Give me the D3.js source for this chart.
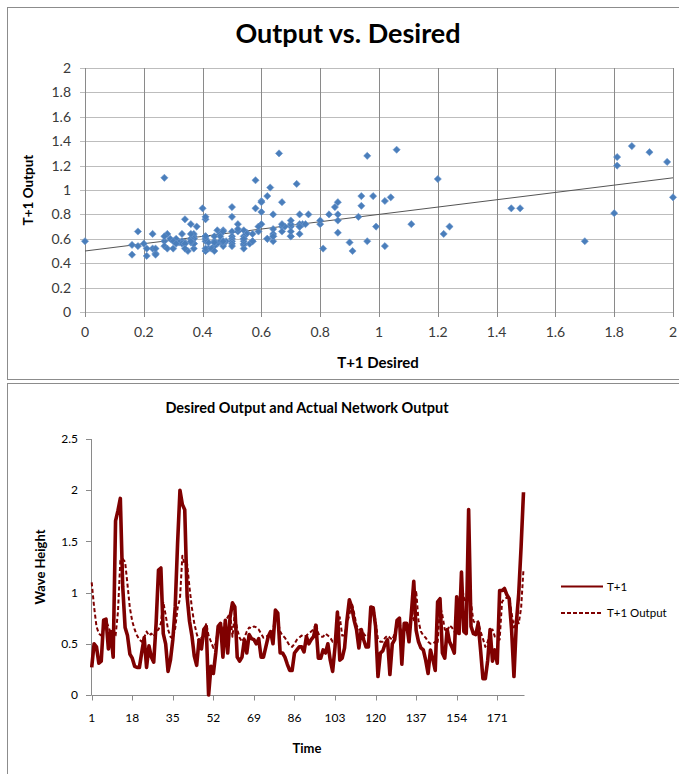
<!DOCTYPE html>
<html>
<head>
<meta charset="utf-8">
<script src="https://cdn.jsdelivr.net/npm/d3@7"></script>
<style>
  html, body { margin: 0; padding: 0; background: #fff; }
  svg { display: block; font-family: Lato, "Open Sans", sans-serif; }
</style>
</head>
<body>
<svg id="chart" width="679" height="774"></svg>
<script>
// ---------------- DATA ----------------
// T+1 (desired wave height), time steps 1..182
const desired = [
  0.27,0.50,0.47,0.31,0.33,0.73,0.74,0.45,0.62,0.37,
  1.70,1.80,1.92,1.06,0.66,0.58,0.40,0.36,0.28,0.27,
  0.27,0.42,0.56,0.27,0.48,0.37,0.32,0.70,1.22,1.24,
  0.60,0.50,0.23,0.34,0.54,0.86,1.48,2.00,1.86,1.81,
  0.96,0.72,0.58,0.38,0.29,0.54,0.45,0.64,0.67,0.00,
  0.28,0.21,0.41,0.67,0.70,0.37,0.73,0.41,0.76,0.90,
  0.86,0.37,0.33,0.37,0.54,0.41,0.59,0.55,0.54,0.50,
  0.55,0.37,0.37,0.47,0.57,0.62,0.50,0.83,0.80,0.41,
  0.41,0.37,0.30,0.24,0.24,0.41,0.44,0.47,0.47,0.42,
  0.57,0.50,0.54,0.57,0.68,0.36,0.36,0.44,0.41,0.50,
  0.34,0.23,0.47,0.81,0.34,0.36,0.46,0.73,0.93,0.86,
  0.73,0.64,0.46,0.64,0.54,0.47,0.47,0.86,0.85,0.67,
  0.18,0.41,0.43,0.50,0.54,0.20,0.50,0.54,0.73,0.75,
  0.30,0.70,0.70,0.52,0.80,1.11,0.63,0.52,0.46,0.44,
  0.34,0.21,0.44,0.35,0.24,0.91,0.94,0.41,0.36,0.64,
  0.52,0.47,0.41,0.96,0.60,1.20,0.62,0.60,1.81,0.67,
  0.60,0.59,0.70,0.44,0.16,0.16,0.34,0.64,0.33,0.44,
  0.31,1.02,1.02,1.04,0.98,0.94,0.64,0.18,0.70,0.99,
  1.45,1.98
];
// T+1 Output (network output), time steps 1..182
const output = [
  1.10,0.86,0.67,0.60,0.58,0.64,0.72,0.67,0.60,0.56,
  0.58,0.81,1.31,1.33,1.30,1.08,0.85,0.72,0.64,0.58,
  0.54,0.52,0.56,0.62,0.58,0.60,0.57,0.62,0.64,0.70,
  0.91,0.78,0.64,0.57,0.55,0.65,0.85,0.94,1.36,1.27,
  1.28,1.05,0.85,0.70,0.60,0.52,0.56,0.58,0.70,0.58,
  0.52,0.46,0.50,0.66,0.70,0.62,0.72,0.76,0.80,0.57,
  0.80,0.64,0.56,0.52,0.56,0.62,0.66,0.65,0.67,0.66,
  0.64,0.60,0.56,0.57,0.58,0.60,0.62,0.80,0.72,0.62,
  0.58,0.56,0.52,0.48,0.47,0.50,0.54,0.56,0.58,0.57,
  0.58,0.60,0.62,0.64,0.70,0.60,0.57,0.57,0.60,0.58,
  0.56,0.52,0.54,0.52,0.76,0.58,0.58,0.70,0.78,0.90,
  0.80,0.68,0.64,0.64,0.60,0.57,0.58,0.75,0.86,0.72,
  0.54,0.52,0.52,0.56,0.58,0.56,0.54,0.60,0.70,0.72,
  0.58,0.62,0.66,0.66,0.75,0.72,1.02,0.72,0.62,0.58,
  0.56,0.52,0.50,0.50,0.52,0.50,0.87,0.78,0.64,0.62,
  0.68,0.66,0.62,0.58,0.82,1.09,0.95,0.90,1.20,0.90,
  0.72,0.70,0.72,0.62,0.55,0.47,0.52,0.62,0.64,0.57,
  0.56,0.54,0.91,0.94,0.95,0.95,0.80,0.66,0.75,0.70,
  0.85,1.23
];
const timeSteps = desired.map((d, i) => i + 1);

const scatterTicks = [0, 0.2, 0.4, 0.6, 0.8, 1, 1.2, 1.4, 1.6, 1.8, 2];
const lineYTicks = [0, 0.5, 1, 1.5, 2, 2.5];
const lineXTicks = [1, 18, 35, 52, 69, 86, 103, 120, 137, 154, 171];
const trendIntercept = 0.5;
const trendSlope = 0.3;

const seriesNames = ["T+1", "T+1 Output"];

// ---------------- DRAW ----------------
const svg = d3.select("#chart");
const fmt = d => String(d);

// frames
svg.append("rect").attr("x", 7.5).attr("y", 7.5).attr("width", 700).attr("height", 372)
  .attr("fill", "none").attr("stroke", "#8c8c8c").attr("stroke-width", 1);
svg.append("rect").attr("x", 7.5).attr("y", 383.5).attr("width", 700).attr("height", 400)
  .attr("fill", "none").attr("stroke", "#8c8c8c").attr("stroke-width", 1);

// ===== Scatter chart =====
const sx = d3.scaleLinear().domain([0, 2]).range([85, 673]);
const sy = d3.scaleLinear().domain([0, 2]).range([312, 68]);

const g1 = svg.append("g");
// horizontal gridlines
g1.append("g").selectAll("line").data(scatterTicks).join("line")
  .attr("x1", sx(0) - 5).attr("x2", sx(2))
  .attr("y1", d => Math.round(sy(d)) + 0.5).attr("y2", d => Math.round(sy(d)) + 0.5)
  .attr("stroke", "#bdbdbd").attr("stroke-width", 1.2);
// vertical gridlines
g1.append("g").selectAll("line").data(scatterTicks).join("line")
  .attr("x1", d => Math.round(sx(d)) + 0.5).attr("x2", d => Math.round(sx(d)) + 0.5)
  .attr("y1", sy(2)).attr("y2", sy(0) + 5)
  .attr("stroke", "#8a8a8a").attr("stroke-width", 1);

// y tick labels
g1.append("g").selectAll("text").data(scatterTicks).join("text")
  .attr("x", 71).attr("y", d => sy(d)).attr("dy", "0.35em")
  .attr("text-anchor", "end").attr("font-size", 14).attr("fill", "#3a3a3a")
  .text(fmt);
// x tick labels
g1.append("g").selectAll("text").data(scatterTicks).join("text")
  .attr("x", d => sx(d)).attr("y", 337)
  .attr("text-anchor", "middle").attr("font-size", 14).attr("fill", "#3a3a3a")
  .text(fmt);

// trendline
g1.append("line")
  .attr("x1", sx(0)).attr("y1", sy(trendIntercept))
  .attr("x2", sx(2)).attr("y2", sy(trendIntercept + trendSlope * 2))
  .attr("stroke", "#555").attr("stroke-width", 1);

// points (square diamonds)
const r = 3.6;
const diamondPath = `M0,${-r}L${r},0L0,${r}L${-r},0Z`;
g1.append("g").selectAll("path").data(desired.map((d, i) => [d, output[i]])).join("path")
  .attr("d", diamondPath)
  .attr("transform", d => `translate(${sx(d[0])},${sy(d[1])})`)
  .attr("fill", "#4a7ebb").attr("stroke", "#6a96cc").attr("stroke-width", 0.6);

// titles
svg.append("text").attr("x", 348).attr("y", 43).attr("text-anchor", "middle")
  .attr("font-size", 27).attr("font-weight", "bold").attr("fill", "#000")
  .text("Output vs. Desired");
svg.append("text").attr("x", 378).attr("y", 368).attr("text-anchor", "middle")
  .attr("font-size", 15).attr("font-weight", "bold").attr("fill", "#000")
  .text("T+1 Desired");
svg.append("text").attr("transform", "translate(33,190) rotate(-90)").attr("text-anchor", "middle")
  .attr("font-size", 13.5).attr("font-weight", "bold").attr("fill", "#000")
  .text("T+1 Output");

// ===== Line chart =====
const lx = d3.scaleLinear().domain([1, 182]).range([91.7, 523.5]);
const ly = d3.scaleLinear().domain([0, 2.5]).range([695, 439]);

const g2 = svg.append("g");
// y axis
g2.append("line").attr("x1", 91.5).attr("x2", 91.5).attr("y1", ly(2.5)).attr("y2", ly(0))
  .attr("stroke", "#8a8a8a").attr("stroke-width", 1);
g2.append("g").selectAll("line").data(lineYTicks).join("line")
  .attr("x1", 86).attr("x2", 91.5)
  .attr("y1", d => Math.round(ly(d)) + 0.5).attr("y2", d => Math.round(ly(d)) + 0.5)
  .attr("stroke", "#8a8a8a");
g2.append("g").selectAll("text").data(lineYTicks).join("text")
  .attr("x", 78).attr("y", d => ly(d)).attr("dy", "0.35em")
  .attr("text-anchor", "end").attr("font-size", 12).attr("fill", "#000")
  .text(fmt);
// x axis
g2.append("line").attr("x1", 91.5).attr("x2", lx(182) + 1).attr("y1", 695.5).attr("y2", 695.5)
  .attr("stroke", "#8a8a8a").attr("stroke-width", 1);
g2.append("g").selectAll("line").data(lineXTicks).join("line")
  .attr("x1", d => Math.round(lx(d)) + 0.5).attr("x2", d => Math.round(lx(d)) + 0.5)
  .attr("y1", 695.5).attr("y2", 700.5)
  .attr("stroke", "#8a8a8a");
g2.append("g").selectAll("text").data(lineXTicks).join("text")
  .attr("x", d => lx(d)).attr("y", 722)
  .attr("text-anchor", "middle").attr("font-size", 12).attr("fill", "#000")
  .text(fmt);

const lineGen = d3.line().x((d, i) => lx(timeSteps[i])).y(d => ly(d));
g2.append("path").datum(output).attr("d", lineGen)
  .attr("fill", "none").attr("stroke", "#7f0000").attr("stroke-width", 2)
  .attr("stroke-dasharray", "4,2.5").attr("stroke-linejoin", "round");
g2.append("path").datum(desired).attr("d", lineGen)
  .attr("fill", "none").attr("stroke", "#7f0000").attr("stroke-width", 3.6)
  .attr("stroke-linejoin", "round");

// titles
svg.append("text").attr("x", 307).attr("y", 413).attr("text-anchor", "middle")
  .attr("font-size", 14.5).attr("font-weight", "bold").attr("fill", "#000")
  .text("Desired Output and Actual Network Output");
svg.append("text").attr("x", 307).attr("y", 753).attr("text-anchor", "middle")
  .attr("font-size", 13).attr("font-weight", "bold").attr("fill", "#000")
  .text("Time");
svg.append("text").attr("transform", "translate(45,567) rotate(-90)").attr("text-anchor", "middle")
  .attr("font-size", 13).attr("font-weight", "bold").attr("fill", "#000")
  .text("Wave Height");

// legend
const legend = svg.append("g");
const legY = [586.5, 613];
legend.selectAll("line").data(seriesNames).join("line")
  .attr("x1", 561).attr("x2", 603)
  .attr("y1", (d, i) => legY[i]).attr("y2", (d, i) => legY[i])
  .attr("stroke", "#7f0000")
  .attr("stroke-width", (d, i) => i === 0 ? 2.2 : 1.8)
  .attr("stroke-dasharray", (d, i) => i === 0 ? null : "4,2");
legend.selectAll("text").data(seriesNames).join("text")
  .attr("x", 607).attr("y", (d, i) => legY[i]).attr("dy", "0.35em")
  .attr("font-size", 11.5).attr("fill", "#000")
  .text(d => d);
</script>
</body>
</html>
